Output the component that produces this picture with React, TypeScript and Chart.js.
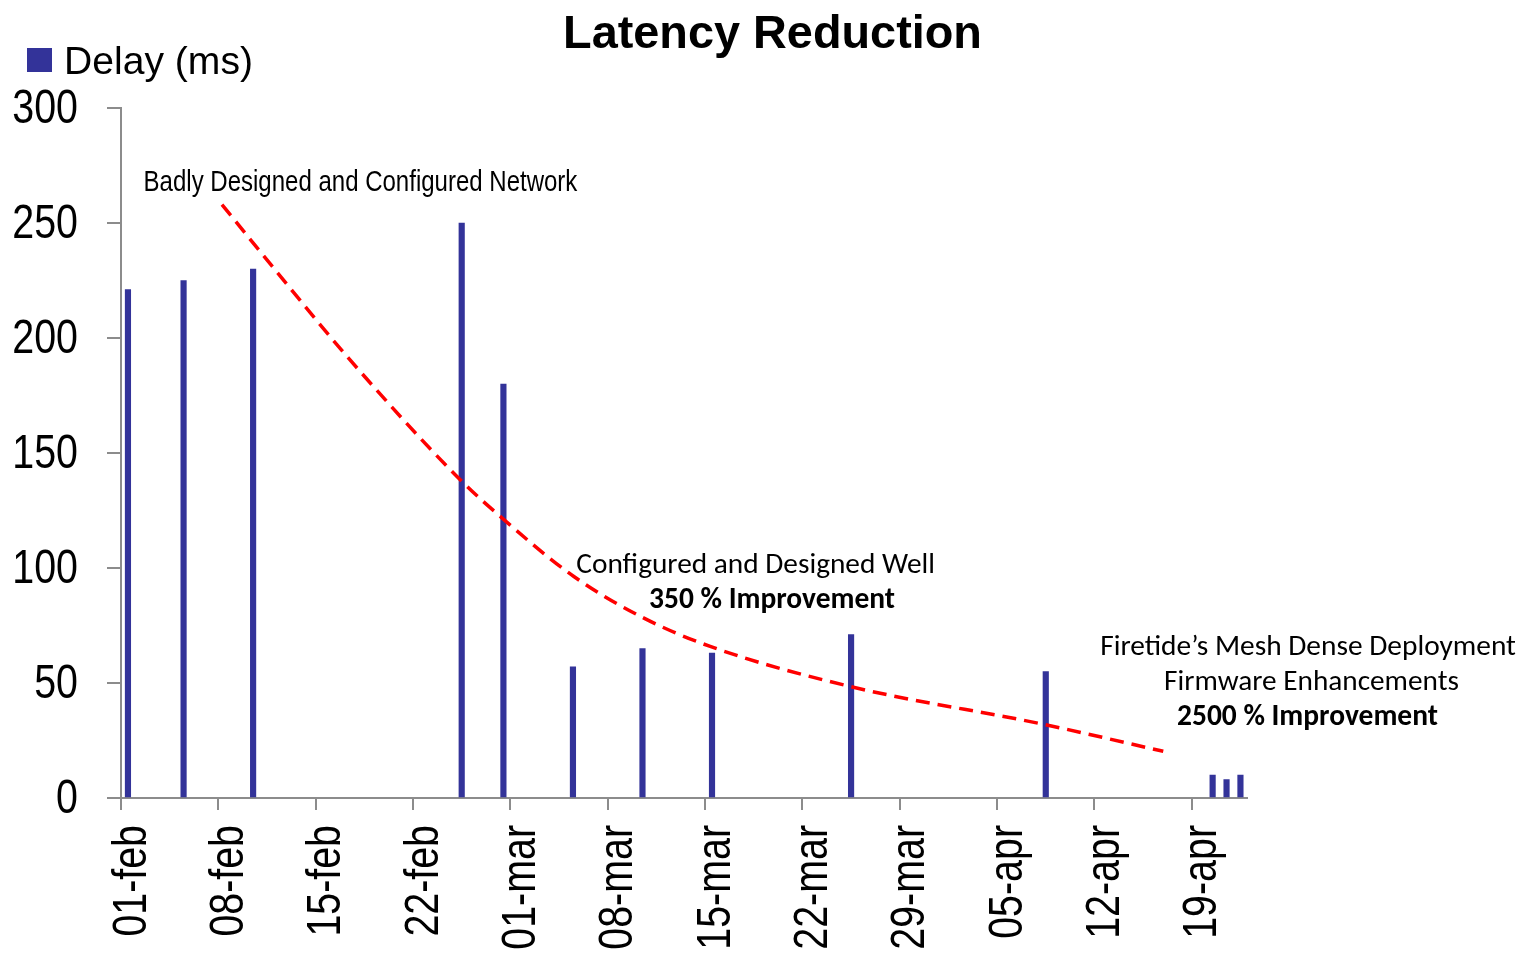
import React, { useEffect, useRef } from 'react';
import { Chart, registerables } from 'chart.js';

Chart.register(...registerables);

// ---------- data ----------
const chartTitle = 'Latency Reduction';
const seriesLabel = 'Delay (ms)';
const barDates = ['01-feb', '05-feb', '10-feb', '25-feb', '28-feb', '05-mar', '10-mar', '15-mar', '25-mar', '08-apr', '20-apr', '21-apr', '22-apr'];
const delayMs = [221, 225, 230, 250, 180, 57, 65, 63, 71, 55, 10, 8, 10];
const tickLabels = ['01-feb', '08-feb', '15-feb', '22-feb', '01-mar', '08-mar', '15-mar', '22-mar', '29-mar', '05-apr', '12-apr', '19-apr'];
const firstDate = '01-feb';
const lastDate = '22-apr';
// hand-drawn red trend curve (day offset from 01-feb, value in ms)
const trendDays = [6.76, 11.55, 15.75, 23.89, 26.89, 32.04, 37.07, 41.87, 51.93, 65.95, 74.45];
const trendValues = [258, 222.5, 192, 138.4, 121.8, 96.4, 78.3, 65.9, 48.5, 31.9, 20.3];
const yMin = 0;
const yMax = 300;
const yStep = 50;

// ---------- helpers ----------
const monthOffset: Record<string, number> = { feb: 0, mar: 28, apr: 59 };
const dayIndex = (label: string) => {
  const [d, m] = label.split('-');
  return monthOffset[m] + Number(d) - 1;
};

const BAR_COLOR = '#333399';
const AXIS_COLOR = '#8c8c8c';
const SANS = "'Liberation Sans', Arial, sans-serif";
const CALIBRI = "Carlito, Calibri, Lato, sans-serif";
const NARROW_SCALE = 0.82; // emulates Arial Narrow by compressing Liberation Sans horizontally

type Note = { text: string; day: number; value: number; width: number; weight: string; family: string; size: number; sx: number };
const notes: Note[] = [
  { text: 'Badly Designed and Configured Network', day: 16.72, value: 263.7, width: 434, weight: 'normal', family: SANS, size: 29, sx: NARROW_SCALE },
  { text: 'Configured and Designed Well', day: 45.14, value: 97.8, width: 359, weight: 'normal', family: CALIBRI, size: 25, sx: 1 },
  { text: '350 % Improvement', day: 46.32, value: 82.6, width: 246, weight: 'bold', family: CALIBRI, size: 25, sx: 1 },
  { text: 'Firetide\u2019s Mesh Dense Deployment', day: 84.86, value: 62.2, width: 416, weight: 'normal', family: CALIBRI, size: 25, sx: 1 },
  { text: 'Firmware Enhancements', day: 85.11, value: 47.0, width: 295, weight: 'normal', family: CALIBRI, size: 25, sx: 1 },
  { text: '2500 % Improvement', day: 84.82, value: 31.8, width: 261, weight: 'bold', family: CALIBRI, size: 25, sx: 1 },
];

function fitText(ctx: CanvasRenderingContext2D, text: string, x: number, y: number, width: number, weight: string, family: string, base: number, sx = 1) {
  ctx.font = `${weight} ${base}px ${family}`;
  const w = ctx.measureText(text).width;
  const size = (base * width) / (w * sx);
  ctx.font = `${weight} ${size}px ${family}`;
  ctx.save();
  ctx.translate(x, y);
  ctx.scale(sx, 1);
  ctx.fillText(text, 0, 0);
  ctx.restore();
}

const overlayPlugin = {
  id: 'overlay',
  afterDraw(chart: any) {
    const ctx: CanvasRenderingContext2D = chart.ctx;
    const xs = chart.scales.x;
    const ys = chart.scales.y;
    ctx.save();
    ctx.fillStyle = '#000';
    ctx.textBaseline = 'alphabetic';

    // title
    ctx.textAlign = 'center';
    fitText(ctx, chartTitle, 764.5, 40, 419, 'bold', SANS, 48);

    // legend
    const ds = chart.data.datasets[0];
    ctx.fillStyle = ds.backgroundColor;
    ctx.fillRect(19, 40, 25, 24);
    ctx.fillStyle = '#000';
    ctx.textAlign = 'left';
    fitText(ctx, ds.label, 56, 66, 189, 'normal', SANS, 39);

    // y tick labels (narrow)
    ctx.font = `normal 48px ${SANS}`;
    ctx.textAlign = 'right';
    for (const t of ys.ticks) {
      const py = ys.getPixelForValue(t.value);
      ctx.save();
      ctx.translate(70, py + 15);
      ctx.scale(NARROW_SCALE, 1);
      ctx.fillText(String(t.value), 0, 0);
      ctx.restore();
    }

    // x tick labels (narrow, rotated)
    xs.ticks.forEach((t: any, i: number) => {
      const px = xs.getPixelForValue(t.value);
      ctx.save();
      ctx.translate(px + 24.5, 817);
      ctx.rotate(-Math.PI / 2);
      ctx.scale(NARROW_SCALE, 1);
      ctx.textAlign = 'right';
      ctx.fillText(tickLabels[i], 0, 0);
      ctx.restore();
    });

    // annotations
    ctx.textAlign = 'center';
    for (const n of notes) {
      fitText(ctx, n.text, xs.getPixelForValue(n.day), ys.getPixelForValue(n.value), n.width, n.weight, n.family, n.size, n.sx);
    }
    ctx.restore();
  },
};

export default function App() {
  const ref = useRef<HTMLCanvasElement | null>(null);

  useEffect(() => {
    if (!ref.current) return;
    const xMin = dayIndex(firstDate) - 0.5;
    const xMax = dayIndex(lastDate) + 0.5;
    const chart = new Chart(ref.current, {
      type: 'bar',
      data: {
        datasets: [
          {
            type: 'bar',
            label: seriesLabel,
            data: barDates.map((d, i) => ({ x: dayIndex(d), y: delayMs[i] })),
            backgroundColor: BAR_COLOR,
            borderWidth: 0,
            barThickness: 5.5,
            grouped: false,
            order: 2,
          } as any,
          {
            type: 'line',
            label: 'trend',
            data: trendDays.map((d, i) => ({ x: d, y: trendValues[i] })),
            borderColor: '#ff0000',
            borderWidth: 3.5,
            borderDash: [14, 8],
            pointRadius: 0,
            fill: false,
            cubicInterpolationMode: 'monotone',
            order: 1,
          } as any,
        ],
      },
      options: {
        responsive: false,
        animation: false,
        events: [],
        layout: { padding: { top: 100, left: 0, right: 272.6, bottom: 0 } },
        plugins: {
          legend: { display: false },
          title: { display: false },
          tooltip: { enabled: false },
        },
        scales: {
          x: {
            type: 'linear',
            min: xMin,
            max: xMax,
            offset: false,
            afterBuildTicks: (scale: any) => {
              scale.ticks = tickLabels.map((l) => ({ value: dayIndex(l) - 0.5 }));
            },
            afterFit: (scale: any) => {
              scale.height = 155;
            },
            grid: {
              offset: false,
              drawOnChartArea: false,
              drawTicks: true,
              tickLength: 12,
              color: AXIS_COLOR,
              lineWidth: 2,
            },
            border: { color: AXIS_COLOR, width: 2 },
            ticks: { display: false, autoSkip: false },
          },
          y: {
            type: 'linear',
            min: yMin,
            max: yMax,
            afterFit: (scale: any) => {
              scale.width = 113;
            },
            grid: {
              drawOnChartArea: false,
              drawTicks: true,
              tickLength: 14,
              color: AXIS_COLOR,
              lineWidth: 2,
            },
            border: { color: AXIS_COLOR, width: 2 },
            ticks: { display: false, stepSize: yStep },
          },
        },
      } as any,
      plugins: [overlayPlugin],
    });
    return () => chart.destroy();
  }, []);

  return (
    <div style={{ position: 'fixed', top: 8, left: 8, width: 1512, height: 945 }}>
      <canvas ref={ref} width={1512} height={945} style={{ display: 'block' }} />
    </div>
  );
}
